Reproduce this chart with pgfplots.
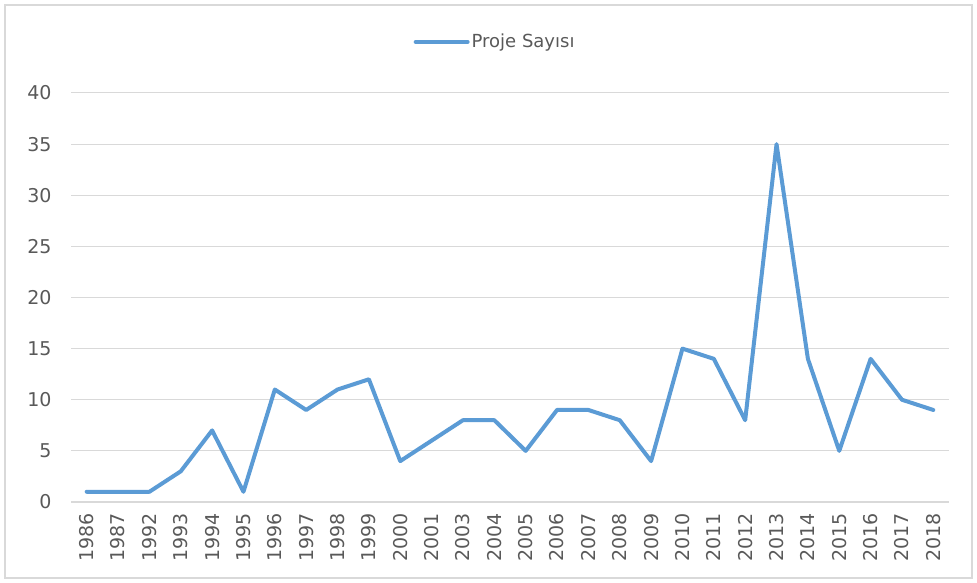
\documentclass[border=0pt]{standalone}
\usepackage{fontspec}
\setmainfont{DejaVu Sans}
\usepackage{pgfplots}
\pgfplotsset{compat=1.18}
\definecolor{lineblue}{RGB}{91,155,213}
\definecolor{txtgray}{RGB}{89,89,89}
\definecolor{gridgray}{RGB}{217,217,217}
\begin{document}
\begin{tikzpicture}
\useasboundingbox (0pt,0pt) rectangle (977pt,583pt);
\draw[gridgray, line width=1.5pt] (5pt,5pt) rectangle (972pt,578pt);
\begin{axis}[
    at={(71pt,81pt)}, anchor=south west,
    scale only axis,
    width=878pt, height=409pt,
    xmin=-0.5, xmax=27.5,
    ymin=0, ymax=40,
    ytick={0,5,...,40},
    xtick={0,...,27},
    xticklabels={1986,1987,1992,1993,1994,1995,1996,1997,1998,1999,2000,2001,2003,2004,2005,2006,2007,2008,2009,2010,2011,2012,2013,2014,2015,2016,2017,2018},
    ymajorgrids,
    grid style={gridgray, line width=1pt},
    axis line style={draw=none},
    tick style={draw=none},
    /pgf/number format/assume math mode=true,
    yticklabel style={font=\fontsize{19}{22}\selectfont, text=txtgray, xshift=-16pt},
    xticklabel style={font=\fontsize{19}{22}\selectfont, text=txtgray, rotate=90, anchor=east, xshift=-8pt},
    legend style={at={(0.483,1.125)}, anchor=center, draw=none, fill=none,
        font=\fontsize{18}{21}\selectfont, text=txtgray},
    legend image code/.code={\draw[#1] (0pt,0pt) -- (52pt,0pt);},
    clip=false,
]
\draw[gridgray, line width=1.5pt] (axis cs:-0.5,0) -- (axis cs:27.5,0);
\addplot[lineblue, line width=4pt, line join=round, line cap=round] coordinates {
(0,1) (1,1) (2,1) (3,3) (4,7) (5,1) (6,11) (7,9) (8,11) (9,12)
(10,4) (11,6) (12,8) (13,8) (14,5) (15,9) (16,9) (17,8) (18,4) (19,15)
(20,14) (21,8) (22,35) (23,14) (24,5) (25,14) (26,10) (27,9)
};
\addlegendentry{Proje Sayısı}
\end{axis}
\end{tikzpicture}
\end{document}
